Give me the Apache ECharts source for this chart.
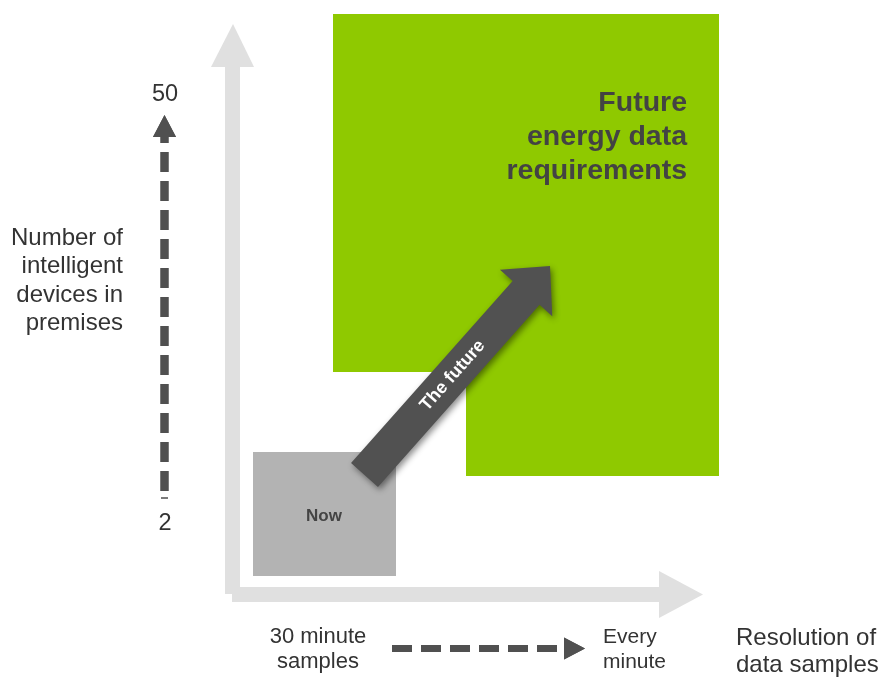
<!DOCTYPE html>
<html>
<head>
<meta charset="utf-8">
<script src="https://cdn.jsdelivr.net/npm/echarts@6/dist/echarts.min.js"></script>
<style>
html,body{margin:0;padding:0;background:#fff;}
#chart{width:880px;height:677px;}
</style>
</head>
<body>
<div id="chart"></div>
<script>
// ---- content (text / categories) ----
const yAxisTitle = ['Number of', 'intelligent', 'devices in', 'premises'];
const yTickLabels = ['2', '50'];
const xTickLabels = [['30 minute', 'samples'], ['Every', 'minute']];
const xAxisTitle = ['Resolution of', 'data samples'];
const regionNames = ['Now', 'Future energy data requirements'];
const regionLines = [['Now'], ['Future', 'energy data', 'requirements']];
const trendLabel = 'The future';

// ---- layout (diagram space, same units as the hidden axes) ----
const W = 880, H = 677;
const regionShapes = [
  [[253, 452], [396, 452], [396, 576], [253, 576]],
  [[333, 14], [719, 14], [719, 476], [466, 476], [466, 372], [333, 372]]
];
const regionColors = ['#b3b3b3', '#8fc900'];
const FONT = '"Liberation Sans", Arial, Helvetica, sans-serif';

const chart = echarts.init(document.getElementById('chart'));

function P(api, p) { return api.coord(p); }

function axesItem(params, api) {
  const c = '#e0e0e0';
  const poly = pts => ({ type: 'polygon', shape: { points: pts.map(p => P(api, p)) }, style: { fill: c } });
  return { type: 'group', children: [
    poly([[225, 65], [240, 65], [240, 594], [225, 594]]),
    poly([[211, 67], [233, 24], [254, 67]]),
    poly([[232, 587], [660, 587], [660, 602], [232, 602]]),
    poly([[659, 571], [703, 594.5], [659, 618]])
  ]};
}

function regionItem(params, api) {
  const i = params.dataIndex;
  const pts = regionShapes[i].map(p => P(api, p));
  const children = [{ type: 'polygon', shape: { points: pts }, style: { fill: regionColors[i] } }];
  if (i === 0) {
    const c = P(api, [324, 516]);
    children.push({ type: 'text', style: { text: regionLines[0][0], x: c[0], y: c[1], fill: '#444', font: 'bold 17px ' + FONT, align: 'center', verticalAlign: 'middle' } });
  } else {
    const ys = [103, 137, 171];
    regionLines[1].forEach((t, k) => {
      const c = P(api, [687, ys[k]]);
      children.push({ type: 'text', style: { text: t, x: c[0], y: c[1], fill: '#434343', font: 'bold 28.5px ' + FONT, align: 'right', verticalAlign: 'middle' } });
    });
  }
  return { type: 'group', children };
}

function trendItem(params, api) {
  const S = [364.5, 475], T = [550, 266];
  const dx = T[0] - S[0], dy = T[1] - S[1];
  const len = Math.hypot(dx, dy);
  const u = [dx / len, dy / len], n = [-u[1], u[0]];
  const hw = 18, HW = 35, HL = 36;
  const B = [T[0] - u[0] * HL, T[1] - u[1] * HL];
  const add = (p, v, k) => [p[0] + v[0] * k, p[1] + v[1] * k];
  const pts = [add(S, n, hw), add(B, n, hw), add(B, n, HW), T, add(B, n, -HW), add(B, n, -hw), add(S, n, -hw)].map(p => P(api, p));
  const L = P(api, add(S, u, 133));
  return { type: 'group', children: [
    { type: 'polygon', shape: { points: pts }, style: { fill: '#515151', shadowBlur: 6, shadowColor: 'rgba(0,0,0,0.45)', shadowOffsetX: 2, shadowOffsetY: 3 } },
    { type: 'text', x: L[0], y: L[1], rotation: Math.atan2(-dy, dx), style: { text: trendLabel, x: 0, y: 0, fill: '#fff', font: 'bold 18px ' + FONT, align: 'center', verticalAlign: 'middle' } }
  ]};
}

function dashItem(params, api) {
  const c = '#505050';
  const a = P(api, [164.5, 491]), b = P(api, [164.5, 137]);
  const h1 = P(api, [392, 648.5]), h2 = P(api, [563, 648.5]);
  return { type: 'group', children: [
    { type: 'line', shape: { x1: a[0], y1: a[1], x2: b[0], y2: b[1] }, style: { stroke: c, lineWidth: 8, lineDash: [20, 9] } },
    { type: 'polygon', shape: { points: [[153, 137], [164.5, 115], [176, 137]].map(p => P(api, p)) }, style: { fill: c } },
    { type: 'line', shape: { x1: P(api,[161,498])[0], y1: P(api,[161,498])[1], x2: P(api,[168,498])[0], y2: P(api,[168,498])[1] }, style: { stroke: c, lineWidth: 1 } },
    { type: 'line', shape: { x1: h1[0], y1: h1[1], x2: h2[0], y2: h2[1] }, style: { stroke: c, lineWidth: 7, lineDash: [20, 9] } },
    { type: 'polygon', shape: { points: [[564, 637.5], [585, 648.5], [564, 659.5]].map(p => P(api, p)) }, style: { fill: c } }
  ]};
}

function textItem(params, api) {
  const ch = [];
  const t = (s, p, size, align) => {
    const c = P(api, p);
    ch.push({ type: 'text', style: { text: s, x: c[0], y: c[1], fill: '#333', font: size + 'px ' + FONT, align, verticalAlign: 'middle' } });
  };
  const yt = [238, 266.5, 295, 323.5];
  yAxisTitle.forEach((s, k) => t(s, [123, yt[k]], 24, 'right'));
  t(yTickLabels[1], [165, 95], 23.5, 'center');
  t(yTickLabels[0], [165, 524], 23.5, 'center');
  xTickLabels[0].forEach((s, k) => t(s, [318, 637 + k * 25], 22, 'center'));
  xTickLabels[1].forEach((s, k) => t(s, [603, 637 + k * 25], 21, 'left'));
  xAxisTitle.forEach((s, k) => t(s, [736, 638 + k * 27.5], 24, 'left'));
  return { type: 'group', children: ch };
}

chart.setOption({
  animation: false,
  backgroundColor: '#fff',
  grid: { left: 0, right: 0, top: 0, bottom: 0 },
  xAxis: { type: 'value', min: 0, max: W, show: false },
  yAxis: { type: 'value', min: 0, max: H, inverse: true, show: false },
  series: [
    { type: 'custom', name: 'axes', renderItem: axesItem, data: [0], z: 1, silent: true },
    { type: 'custom', name: 'regions', renderItem: regionItem, data: regionNames.map((n, i) => ({ name: n, value: i })), z: 2, silent: true },
    { type: 'custom', name: 'trend', renderItem: trendItem, data: [trendLabel], z: 3, silent: true },
    { type: 'custom', name: 'scales', renderItem: dashItem, data: yTickLabels, z: 4, silent: true },
    { type: 'custom', name: 'labels', renderItem: textItem, data: [0], z: 5, silent: true }
  ]
});
</script>
</body>
</html>
